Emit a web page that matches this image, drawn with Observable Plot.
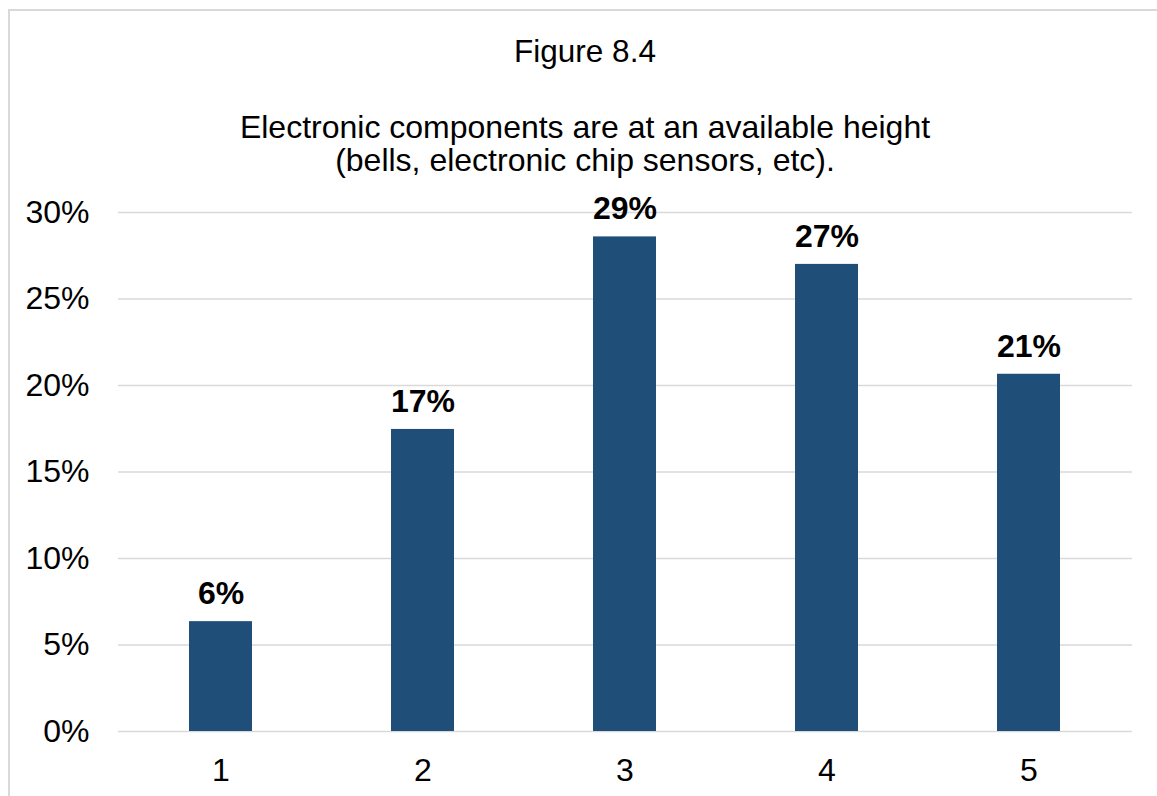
<!DOCTYPE html>
<html>
<head>
<meta charset="utf-8">
<script src="https://cdn.jsdelivr.net/npm/d3@7"></script>
<script src="https://cdn.jsdelivr.net/npm/@observablehq/plot@0.6"></script>
<style>
  html, body { margin: 0; padding: 0; background: #fff; overflow: hidden; }
  body { width: 1157px; height: 796px; position: relative; font-family: "Liberation Sans", Arial, sans-serif; }
  #frame { position: absolute; left: 8px; top: 9px; width: 1200px; height: 840px; border: 2px solid #d9d9d9; box-sizing: border-box; }
  .ttl { position: absolute; left: 0; width: 1170px; text-align: center; font-size: 32px; line-height: 30px; color: #000; white-space: nowrap; }
  #chart { position: absolute; left: 0; top: 180px; }
</style>
</head>
<body>
<div id="frame"></div>
<div class="ttl" style="top:36px; font-size:31.5px;">Figure 8.4</div>
<div class="ttl" style="top:112px;">Electronic components are at an available height</div>
<div class="ttl" style="top:145px;">(bells, electronic chip sensors, etc).</div>
<div id="chart"></div>
<script>
const categories = ["1", "2", "3", "4", "5"];
const values = [0.0635, 0.1746, 0.2859, 0.2700, 0.2065];
const valueLabels = ["6%", "17%", "29%", "27%", "21%"];
const yTicks = [0, 0.05, 0.10, 0.15, 0.20, 0.25, 0.30];

const data = categories.map((c, i) => ({category: c, value: values[i], label: valueLabels[i]}));

const chart = Plot.plot({
  width: 1157,
  height: 616,
  marginLeft: 118,
  marginRight: 25,
  marginTop: 32,
  marginBottom: 65,
  style: {fontFamily: '"Liberation Sans", Arial, sans-serif', fontSize: "32px", color: "#000", background: "transparent"},
  x: {domain: categories, paddingInner: 0.687, paddingOuter: 0.3435, label: null},
  y: {domain: [0, 0.30], label: null},
  marks: [
    Plot.ruleY(yTicks, {stroke: "#d9d9d9", strokeWidth: 1.5}),
    Plot.barY(data, {x: "category", y: "value", fill: "#1f4e79"}),
    Plot.text(data, {x: "category", y: "value", text: "label", dy: -28, fontWeight: "bold", fontSize: 32, fill: "#000"}),
    Plot.axisY({ticks: yTicks, tickFormat: d3.format(".0%"), tickSize: 0, tickPadding: 29, fontSize: 32, label: null}),
    Plot.axisX({tickSize: 0, tickPadding: 27, fontSize: 32, label: null})
  ]
});
document.getElementById("chart").appendChild(chart);
</script>
</body>
</html>
